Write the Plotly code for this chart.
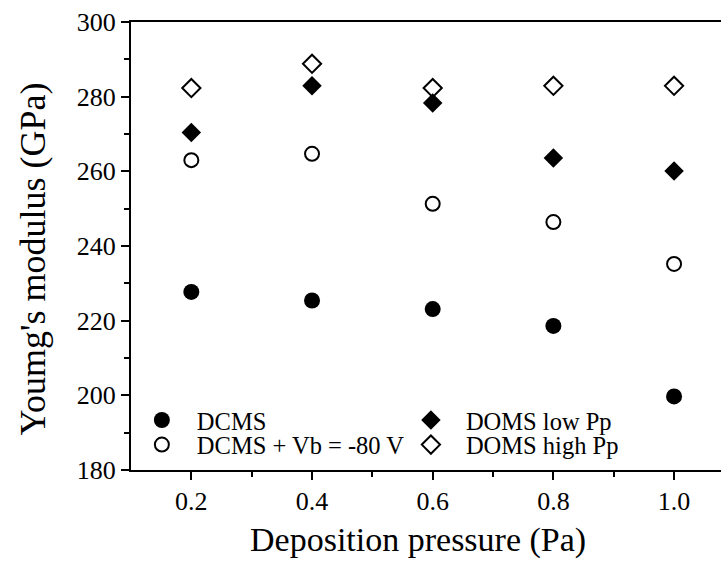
import plotly.graph_objects as go

pressure = [0.2, 0.4, 0.6, 0.8, 1.0]
dcms = [227.7, 225.4, 223.1, 218.6, 199.7]
dcms_vb = [263.0, 264.7, 251.3, 246.4, 235.2]
doms_low = [270.4, 282.9, 278.3, 263.6, 260.1]
doms_high = [282.3, 288.8, 282.3, 282.9, 282.9]

FONT = "Liberation Serif"

fig = go.Figure()
fig.add_trace(go.Scatter(x=pressure, y=dcms, mode="markers", name="DCMS",
                         marker=dict(symbol="circle", size=16, color="black"),
                         legend="legend"))
fig.add_trace(go.Scatter(x=pressure, y=dcms_vb, mode="markers", name="DCMS + Vb = -80 V",
                         marker=dict(symbol="circle-open", size=14, color="black", line=dict(width=2)),
                         legend="legend2"))
fig.add_trace(go.Scatter(x=pressure, y=doms_low, mode="markers", name="DOMS low Pp",
                         marker=dict(symbol="diamond", size=15, color="black"),
                         legend="legend3"))
fig.add_trace(go.Scatter(x=pressure, y=doms_high, mode="markers", name="DOMS high Pp",
                         marker=dict(symbol="diamond-open", size=14, color="black", line=dict(width=2)),
                         legend="legend4"))

def leg(x, y):
    return dict(x=x, y=y, font=dict(family=FONT, size=24.5, color="black"), bgcolor="rgba(0,0,0,0)",
                borderwidth=0, yanchor="middle", xanchor="left", itemwidth=60)

fig.update_layout(
    width=721, height=562,
    margin=dict(l=131, r=0, t=22, b=92),
    plot_bgcolor="white", paper_bgcolor="white",
    font=dict(family=FONT, size=26, color="black"),
    showlegend=True,
    legend=leg(-0.007, 0.1115),
    legend2=leg(-0.007, 0.0565),
    legend3=leg(0.449, 0.1115),
    legend4=leg(0.449, 0.0565),
    xaxis=dict(
        range=[0.1, 1.0778], tickvals=[0.2, 0.4, 0.6, 0.8, 1.0],
        ticktext=["0.2", "0.4", "0.6", "0.8", "1.0"],
        showgrid=False, zeroline=False, showline=True, linecolor="black", linewidth=2,
        mirror=True, ticks="outside", ticklen=8, tickwidth=2, tickcolor="black",
        minor=dict(tickvals=[0.3, 0.5, 0.7, 0.9], ticks="outside", ticklen=5, tickwidth=2, tickcolor="black"),
        tickfont=dict(family=FONT, size=26), ticklabelstandoff=-1,
    ),
    yaxis=dict(
        range=[180, 300], tickvals=[180, 200, 220, 240, 260, 280, 300],
        showgrid=False, zeroline=False, showline=True, linecolor="black", linewidth=2,
        ticks="outside", ticklen=8, tickwidth=2, tickcolor="black",
        minor=dict(tickvals=[190, 210, 230, 250, 270, 290], ticks="outside", ticklen=5, tickwidth=2, tickcolor="black"),
        tickfont=dict(family=FONT, size=26),
    ),
    annotations=[
        dict(text="Deposition pressure (Pa)", xref="paper", yref="paper", x=0.4864, y=-0.2025,
             xanchor="center", yanchor="bottom", showarrow=False, font=dict(family=FONT, size=34)),
        dict(text="Youmg's modulus (GPa)", xref="paper", yref="paper", x=-0.1661, y=0.47,
             xanchor="center", yanchor="middle", textangle=-90, showarrow=False,
             font=dict(family=FONT, size=36)),
    ],
)

fig.write_html("out.html", config={"displayModeBar": False},
               post_script="document.body.style.margin='0';")
